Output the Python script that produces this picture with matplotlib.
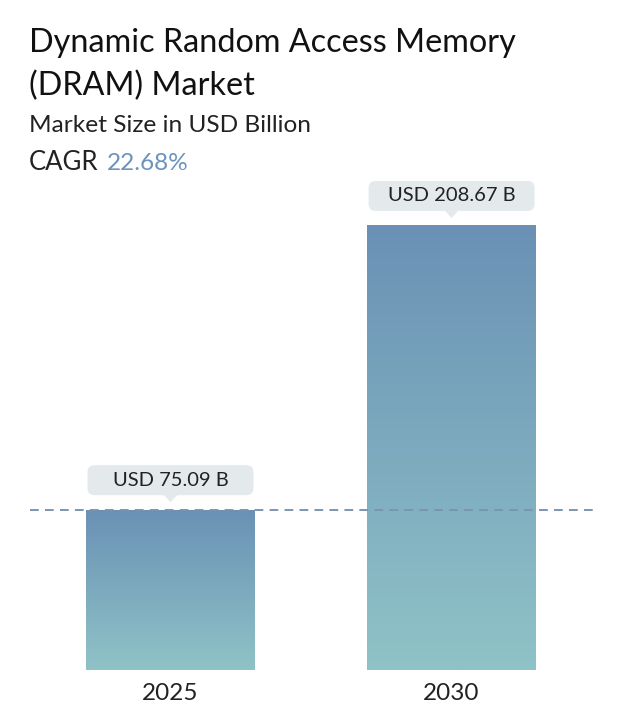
import numpy as np
import matplotlib
matplotlib.use("Agg")
import matplotlib.pyplot as plt
from matplotlib.patches import FancyBboxPatch, Polygon
from matplotlib.transforms import IdentityTransform
from matplotlib.colors import LinearSegmentedColormap

years = ["2025", "2030"]
values = [75.09, 208.67]
labels = ["USD 75.09 B", "USD 208.67 B"]
title = "Dynamic Random Access Memory\n(DRAM) Market"
subtitle = "Market Size in USD Billion"
cagr = "22.68%"

plt.rcParams['font.family'] = ['Lato', 'DejaVu Sans']

W, H = 620, 722
fig = plt.figure(figsize=(W / 100, H / 100), dpi=100)
# axes placed in pixels: left 30, right 598, bottom 670, top 180
ax = fig.add_axes([30 / W, 1 - 670 / H, 568 / W, 490 / H])
ax.set_xlim(-0.5, 1.521)
ax.set_ylim(0, 490 / 2.128)
ax.axis("off")

cmap = LinearSegmentedColormap.from_list("g", ["#8fc3c7", "#6a91b5"])
grad = np.linspace(0, 1, 256).reshape(-1, 1)
bw = 0.6
x = np.arange(len(values))
for xi, v in zip(x, values):
    ax.imshow(grad, extent=[xi - bw / 2, xi + bw / 2, 0, v], origin="lower",
              aspect="auto", cmap=cmap, zorder=2)

ax.axhline(values[0], color="#7a95b2", lw=1.4, ls=(0, (4.5, 3.2)), zorder=3)

fig.canvas.draw()
for xi, v, lab, yr in zip(x, values, labels, years):
    cx, ty = ax.transData.transform((xi, v))
    box = FancyBboxPatch((cx - 83, ty + 15), 166, 30,
                         boxstyle="round,pad=0,rounding_size=7",
                         transform=IdentityTransform(), fc="#e4e9ec", ec="none",
                         clip_on=False, zorder=4)
    ax.add_artist(box)
    tri = Polygon([(cx - 7, ty + 15.5), (cx + 7, ty + 15.5), (cx, ty + 8)],
                  closed=True, transform=IdentityTransform(), fc="#e4e9ec",
                  ec="none", clip_on=False, zorder=4)
    ax.add_artist(tri)
    ax.text(cx, ty + 30, lab, transform=IdentityTransform(), ha="center",
            va="center", fontsize=14.5, color="#222222", zorder=5)
    bx, by = ax.transData.transform((xi, 0))
    ax.text(bx, by - 24, yr, transform=IdentityTransform(), ha="center",
            va="center", fontsize=17.5, color="#222222")

fig.text(29 / W, 1 - 28 / H, title, ha="left", va="top", fontsize=23.3,
         color="#111111", linespacing=1.5)
fig.text(29 / W, 1 - 126 / H, subtitle, ha="left", va="center", fontsize=17.6,
         color="#222222")
t = fig.text(29 / W, 1 - 163 / H, "CAGR", ha="left", va="center", fontsize=18.5,
             color="#222222")
fig.canvas.draw()
bb = t.get_window_extent()
fig.text((bb.x1 + 8) / W, 1 - 163 / H, cagr, ha="left", va="center",
         fontsize=17.6, color="#6b93bd")

fig.savefig("out.png", dpi=100)
